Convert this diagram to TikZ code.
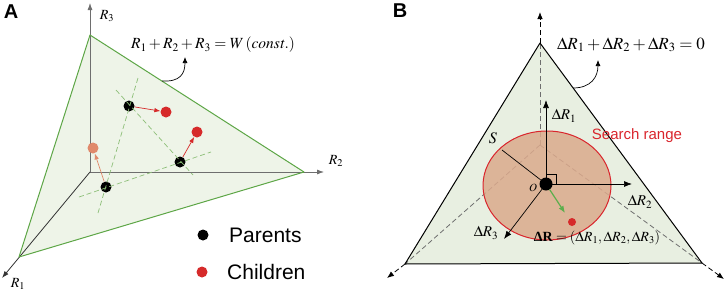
\documentclass[tikz,border=0pt]{standalone}
\usepackage{mathptmx}
\usepackage{fontspec}
\setmainfont{Liberation Serif}
\newfontfamily\arial{Liberation Sans}
\usetikzlibrary{arrows.meta,shapes.geometric}
\definecolor{triA}{HTML}{EEF4E8}
\definecolor{edgeA}{HTML}{5DA646}
\definecolor{dashA}{HTML}{8DBF78}
\definecolor{childred}{HTML}{D62A2A}
\definecolor{childorg}{HTML}{E0896B}
\definecolor{triB}{HTML}{E8EFE1}
\definecolor{rangefill}{HTML}{DBAA8C}
\definecolor{rangeedge}{HTML}{D9252C}
\definecolor{greenarrow}{HTML}{5BAE4C}
\definecolor{axisgray}{HTML}{6E6E6E}
\newcommand{\fsz}[1]{\fontsize{#1}{#1}\selectfont}
\begin{document}
\begin{tikzpicture}[x=1pt,y=-1pt,
  axisline/.style={draw=axisgray, line width=0.8pt, -{Latex[length=7pt,width=5pt]}},
  dotP/.style={circle, fill=black, inner sep=0pt, minimum size=11pt},
  dotC/.style={circle, fill=childred, inner sep=0pt, minimum size=11pt},
  moveA/.style={-{Latex[length=6pt,width=4.5pt]}, draw=childred, line width=0.7pt},
  guide/.style={draw=dashA, dash pattern=on 5pt off 3pt, line width=0.7pt},
  panel/.style={font=\arial\bfseries\fsz{20}},
  legend/.style={font=\arial\fsz{21}, anchor=west, inner sep=0pt},
  note/.style={-{Latex[length=6pt,width=5pt]}, line width=0.7pt},
  vec/.style={-{Latex[length=8pt,width=6pt]}, line width=0.7pt},
  dashin/.style={draw=axisgray, dash pattern=on 5pt off 3pt, line width=0.8pt},
  dashout/.style={draw=black, dash pattern=on 5pt off 3pt, line width=0.8pt, -{Latex[length=7pt,width=5.5pt]}}]
\useasboundingbox (0,0) rectangle (726,295);

% ---------------- Panel A ----------------
\node[panel] (labA) at (11,12) {A};
\coordinate (oA) at (90,172);
\coordinate (r3tip) at (90,3);
\coordinate (r2tip) at (324,172);
\coordinate (r1tip) at (2,278);
\coordinate (vT) at (90,35);
\coordinate (vR) at (304,172);
\coordinate (vL) at (19,257);
\fill[triA] (vT) -- (vR) -- (vL) -- cycle;
\draw[axisline] (oA) -- (r3tip);
\draw[axisline] (oA) -- (r2tip);
\draw[axisline, draw=black!80] (oA) -- (r1tip);
\draw[edgeA, line width=1pt, line join=round] (vT) -- (vR) -- (vL) -- cycle;
\node[font=\fsz{14}] (r3lab) at (107,16) {$R_3$};
\node[font=\fsz{14}] (r2lab) at (336,161) {$R_2$};
\node[font=\fsz{14}] (r1lab) at (18,284) {$R_1$};

\coordinate (g1a) at (138,78);  \coordinate (g1b) at (98,213);
\coordinate (g2a) at (116,90);  \coordinate (g2b) at (193,175);
\coordinate (g3a) at (79,197);  \coordinate (g3b) at (211,152);

\node[dotP] (p1) at (129,106) {};
\node[dotP] (p2) at (180,162) {};
\node[dotP] (p3) at (106,187) {};
\node[dotC] (c1) at (166,112) {};
\node[dotC] (c2) at (197,132) {};
\node[dotC, fill=childorg] (c3) at (93,148) {};
\draw[guide] (g1a) -- (g1b);
\draw[guide] (g2a) -- (g2b);
\draw[guide] (g3a) -- (g3b);
\draw[moveA] (p1) -- (c1);
\draw[moveA] (p2) -- (c2);
\draw[moveA, draw=childorg] (p3) -- (c3);

\node[font=\fsz{15.5}] (eqA) at (213,45) {$R_1+R_2+R_3=W\,(\mathit{const.})$};
\coordinate (aA) at (162,81);
\coordinate (aAtip) at (185,57);
\draw[note] (aA) .. controls (180,82) and (185,74) .. (aAtip);

\node[dotP] (lp) at (203,235) {};
\node[legend] (lpt) at (229,235) {Parents};
\node[dotC] (lc) at (202,272) {};
\node[legend] (lct) at (227,272) {Children};

% ---------------- Panel B ----------------
\node[panel] (labB) at (400,11) {B};
\coordinate (oB) at (540,145);
\coordinate (bT) at (540,43);
\coordinate (bL) at (405,264);
\coordinate (bR) at (702,263);
\coordinate (tT) at (540,12);
\coordinate (tL) at (387,278);
\coordinate (tR) at (724,279);
\fill[triB] (bT) -- (bR) -- (bL) -- cycle;
\draw[dashin] (oB) -- (bT);
\draw[dashin] (oB) -- (bL);
\draw[dashin] (oB) -- (bR);
\draw[dashout] (bT) -- (tT);
\draw[dashout] (bL) -- (tL);
\draw[dashout] (bR) -- (tR);
\draw[black, line width=1pt, line join=round] (bT) -- (bR) -- (bL) -- cycle;

\node[ellipse, draw=rangeedge, fill=rangefill, fill opacity=0.85, line width=1pt,
      inner sep=0pt, minimum width=128pt, minimum height=109pt] (range) at (547,185.5) {};
\node[text=rangeedge, font=\arial\fsz{15}] (rangelab) at (637,136) {Search range};

\coordinate (d1) at (546,100);
\coordinate (d2) at (632,184);
\coordinate (d3) at (504,239);
\coordinate (sEnd) at (502,150);
\coordinate (oc) at (546,184);
\draw[vec] (oc) -- (d1);
\draw[vec] (oc) -- (d2);
\draw[vec] (oc) -- (d3);
\draw[line width=0.7pt] (oc) -- (sEnd);
\draw[line width=0.6pt] (546,174) -- (556,174) -- (556,184);
\node[circle, fill=black, inner sep=0pt, minimum size=13pt] (o) at (oc) {};
\node[circle, fill=childred, inner sep=0pt, minimum size=8pt] (child) at (572,222) {};
\coordinate (gTip) at (565,213);
\draw[-{Latex[length=7pt,width=5.5pt]}, draw=greenarrow, line width=1.2pt] (o) -- (gTip);

\node[font=\fsz{15}] (d1lab) at (564,116) {$\Delta R_1$};
\node[font=\fsz{15}] (d2lab) at (640,202) {$\Delta R_2$};
\node[font=\fsz{15}] (d3lab) at (486,233) {$\Delta R_3$};
\node[font=\fsz{16}] (slab) at (493,138) {$S$};
\node[font=\fsz{11}] (olab) at (533,188) {$O$};
\node[font=\fsz{14}] (veclab) at (597,238) {\textbf{ΔR}${}=(\Delta R_1,\Delta R_2,\Delta R_3)$};

\node[font=\fsz{17}] (eqB) at (631,45) {$\Delta R_1+\Delta R_2+\Delta R_3=0$};
\coordinate (aB) at (573,88);
\coordinate (aBtip) at (598,60);
\draw[note] (aB) .. controls (591,88) and (598,77) .. (aBtip);
\end{tikzpicture}
\end{document}
